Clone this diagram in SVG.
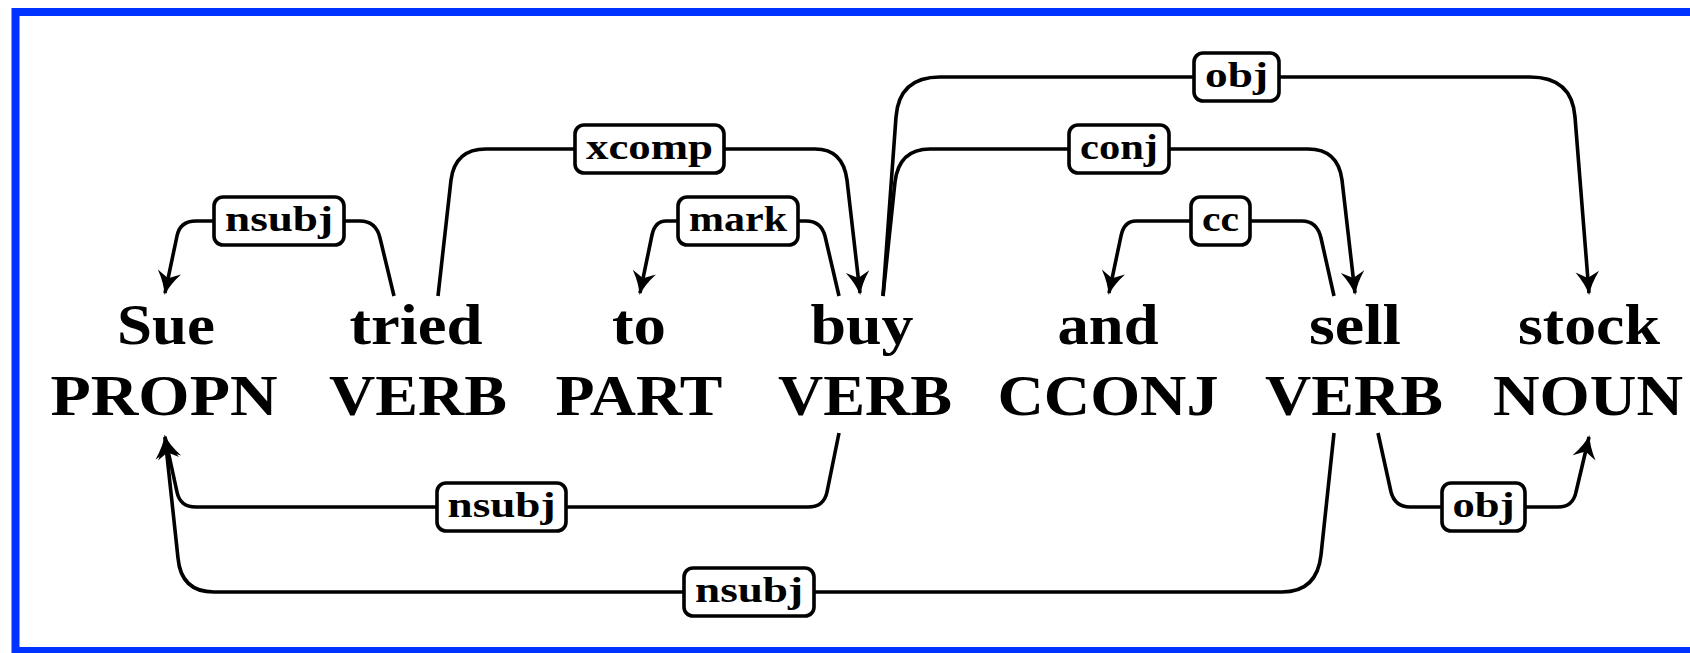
<svg xmlns="http://www.w3.org/2000/svg" width="1690" height="653" viewBox="0 0 1690 653">
<style>
.w{font-family:"Liberation Serif","Times New Roman",serif;font-weight:bold;font-size:57px;text-anchor:middle;fill:#000}
.l{font-family:"Liberation Serif","Times New Roman",serif;font-weight:bold;font-size:36px;text-anchor:middle;fill:#000}
.e{fill:none;stroke:#000;stroke-width:3.6;stroke-linejoin:round}
.a{marker-end:url(#ah)}
.b{fill:#fff;stroke:#000;stroke-width:3.6}
</style>
<defs>
<marker id="ah" markerUnits="userSpaceOnUse" markerWidth="30" markerHeight="30" viewBox="-2 -14 28 28" refX="20" refY="0" orient="auto">
<path d="M22,0 Q12,2.5 0,11 L6,0 L0,-11 Q12,-2.5 22,0 Z" fill="#000"/>
</marker>
</defs>
<rect x="15.5" y="12" width="1700" height="639" fill="#fff" stroke="#0033ff" stroke-width="8"/>
<g id="connectors">
<path class="e a" d="M394,296 L380,238 Q376,221 360,221 L196,221 Q180,221 177,236 L165,293"/>
<path class="e a" d="M438,296 L451,180 Q455,149 486,149 L815,149 Q843,149 847,180 L860,293"/>
<path class="e a" d="M839,296 L825,236 Q821,221 806,221 L666,221 Q655,221 652,235 L640,293"/>
<path class="e a" d="M883,296 L896,117 Q899,77 940,77 L1530,77 Q1572,77 1575,117 L1589,293"/>
<path class="e a" d="M883,296 L895,182 Q899,149 930,149 L1308,149 Q1338,149 1342,180 L1355,293"/>
<path class="e a" d="M1334,296 L1321,238 Q1317,221 1302,221 L1136,221 Q1124,221 1121,236 L1109,293"/>
<path class="e a" d="M839,433 L827,492 Q824,507 808,507 L196,507 Q180,507 177,492 L165,437"/>
<path class="e a" d="M1334,433 L1321,555 Q1317,592 1282,592 L214,592 Q181,592 178,558 L165,437"/>
<path class="e a" d="M1378,433 L1391,492 Q1395,507 1410,507 L1558,507 Q1573,507 1576,492 L1589,437"/>
</g>
<g id="label-nsubj-1"><rect class="b" x="214" y="197" width="130" height="48" rx="9"/><text class="l" x="279" y="231" textLength="108" lengthAdjust="spacingAndGlyphs">nsubj</text></g>
<g id="label-xcomp"><rect class="b" x="575" y="125" width="149" height="48" rx="9"/><text class="l" x="649.5" y="159" textLength="127" lengthAdjust="spacingAndGlyphs">xcomp</text></g>
<g id="label-mark"><rect class="b" x="678" y="197" width="120" height="48" rx="9"/><text class="l" x="738" y="231" textLength="98" lengthAdjust="spacingAndGlyphs">mark</text></g>
<g id="label-obj-1"><rect class="b" x="1194" y="53" width="85" height="48" rx="9"/><text class="l" x="1236.5" y="87" textLength="63" lengthAdjust="spacingAndGlyphs">obj</text></g>
<g id="label-conj"><rect class="b" x="1069" y="125" width="100" height="48" rx="9"/><text class="l" x="1119" y="159" textLength="78" lengthAdjust="spacingAndGlyphs">conj</text></g>
<g id="label-cc"><rect class="b" x="1191" y="197" width="59" height="48" rx="9"/><text class="l" x="1220.5" y="231" textLength="37" lengthAdjust="spacingAndGlyphs">cc</text></g>
<g id="label-nsubj-2"><rect class="b" x="437" y="483" width="129" height="48" rx="9"/><text class="l" x="501.5" y="517" textLength="108" lengthAdjust="spacingAndGlyphs">nsubj</text></g>
<g id="label-nsubj-3"><rect class="b" x="684" y="568" width="130" height="48" rx="9"/><text class="l" x="749" y="602" textLength="108" lengthAdjust="spacingAndGlyphs">nsubj</text></g>
<g id="label-obj-2"><rect class="b" x="1442" y="483" width="83" height="48" rx="9"/><text class="l" x="1483.5" y="517" textLength="62" lengthAdjust="spacingAndGlyphs">obj</text></g>
<g id="node-Sue"><text class="w" x="166" y="344" textLength="98" lengthAdjust="spacingAndGlyphs">Sue</text><text class="w" x="164" y="415" textLength="227" lengthAdjust="spacingAndGlyphs">PROPN</text></g>
<g id="node-tried"><text class="w" x="416" y="344" textLength="133" lengthAdjust="spacingAndGlyphs">tried</text><text class="w" x="418" y="415" textLength="178" lengthAdjust="spacingAndGlyphs">VERB</text></g>
<g id="node-to"><text class="w" x="639" y="344" textLength="54" lengthAdjust="spacingAndGlyphs">to</text><text class="w" x="639" y="415" textLength="167" lengthAdjust="spacingAndGlyphs">PART</text></g>
<g id="node-buy"><text class="w" x="862" y="344" textLength="103" lengthAdjust="spacingAndGlyphs">buy</text><text class="w" x="865" y="415" textLength="174" lengthAdjust="spacingAndGlyphs">VERB</text></g>
<g id="node-and"><text class="w" x="1108" y="344" textLength="101" lengthAdjust="spacingAndGlyphs">and</text><text class="w" x="1108" y="415" textLength="221" lengthAdjust="spacingAndGlyphs">CCONJ</text></g>
<g id="node-sell"><text class="w" x="1355" y="344" textLength="92" lengthAdjust="spacingAndGlyphs">sell</text><text class="w" x="1354" y="415" textLength="178" lengthAdjust="spacingAndGlyphs">VERB</text></g>
<g id="node-stock"><text class="w" x="1589" y="344" textLength="142" lengthAdjust="spacingAndGlyphs">stock</text><text class="w" x="1588" y="415" textLength="190" lengthAdjust="spacingAndGlyphs">NOUN</text></g>
</svg>
